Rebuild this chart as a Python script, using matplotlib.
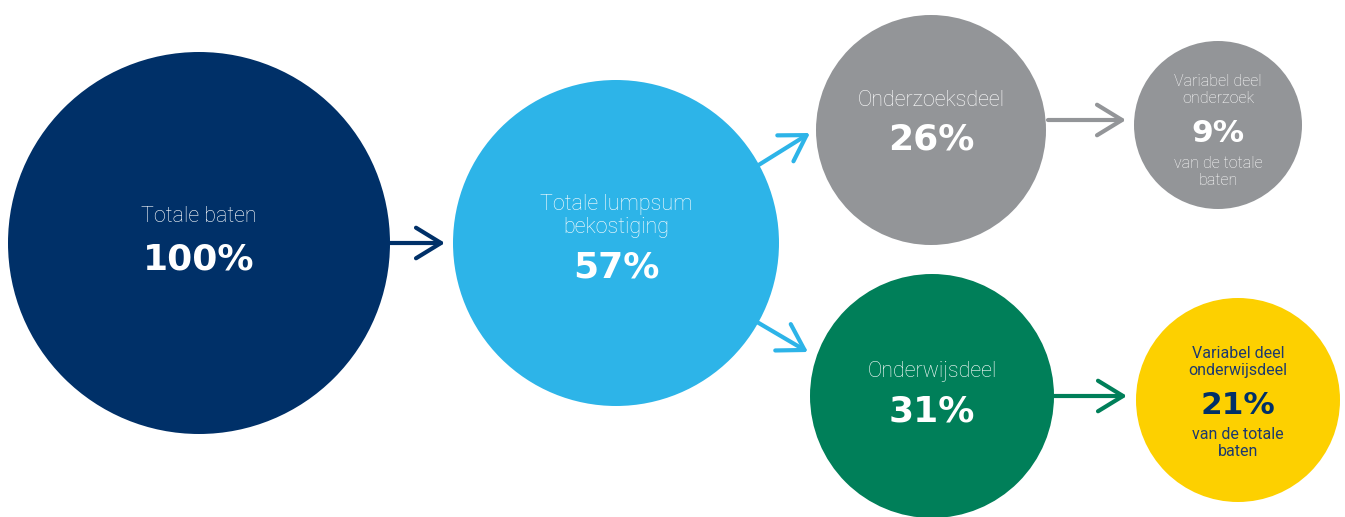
import matplotlib.pyplot as plt
from matplotlib.patches import Circle

# Gegevens
labels = ["Totale baten", "Totale lumpsum\nbekostiging", "Onderzoeksdeel",
          "Variabel deel\nonderzoek", "Onderwijsdeel", "Variabel deel\nonderwijsdeel"]
values = [100, 57, 26, 9, 31, 21]
footers = ["", "", "", "van de totale\nbaten", "", "van de totale\nbaten"]

# Opmaak (pixels)
centers = [(199, 243), (616, 243), (931, 130), (1218, 125), (932, 396), (1238, 400)]
radii = [191, 163, 115, 84, 122, 102]
colors = ["#003068", "#2DB4E8", "#939598", "#939598", "#007F59", "#FDD000"]
text_colors = ["white", "white", "white", "white", "white", "#1E3A6E"]
num_colors = ["white", "white", "white", "white", "white", "#003068"]
label_y = [217, 216, 101, 90, 372, 362]
num_y = [259, 268, 139, 133, 411, 405]
foot_y = [0, 0, 0, 172, 0, 443]
label_size = [15.5, 15.5, 15.5, 11.5, 15.5, 11.5]
label_weight = ['light', 'light', 'light', 'light', 'light', 'normal']
num_size = [26, 26, 26, 22.5, 26, 22.5]

# pijlen: (start, eind, kleur)
arrows = [((390, 243), (445, 243), "#003068"),
          ((757, 166), (810, 133), "#2DB4E8"),
          ((757, 322), (808, 352), "#2DB4E8"),
          ((1048, 120), (1126, 120), "#939598"),
          ((1054, 396), (1127, 396), "#007F59")]

plt.rcParams['font.family'] = ['Roboto', 'DejaVu Sans']

fig = plt.figure(figsize=(13.45, 5.17), dpi=100)
ax = fig.add_axes([0, 0, 1, 1])
ax.set_xlim(0, 1345)
ax.set_ylim(517, 0)
ax.set_aspect('equal')
ax.axis('off')

for i in range(len(values)):
    ax.add_patch(Circle(centers[i], radii[i], color=colors[i], lw=0))
    cx = centers[i][0]
    ax.text(cx, label_y[i], labels[i], ha='center', va='center', color=text_colors[i],
            fontsize=label_size[i], fontweight=label_weight[i], linespacing=1.15)
    ax.text(cx, num_y[i], f"{values[i]}%", ha='center', va='center', color=num_colors[i],
            fontsize=num_size[i], fontweight='bold', family='DejaVu Sans')
    if footers[i]:
        ax.text(cx, foot_y[i], footers[i], ha='center', va='center', color=text_colors[i],
                fontsize=label_size[i], fontweight=label_weight[i], linespacing=1.15)

for (x0, y0), (x1, y1), c in arrows:
    ax.annotate("", xy=(x1, y1), xytext=(x0, y0),
                arrowprops=dict(arrowstyle="->,head_length=1.8,head_width=1.1",
                                color=c, lw=3.0, shrinkA=0, shrinkB=0))

fig.savefig("out.png", dpi=100)
